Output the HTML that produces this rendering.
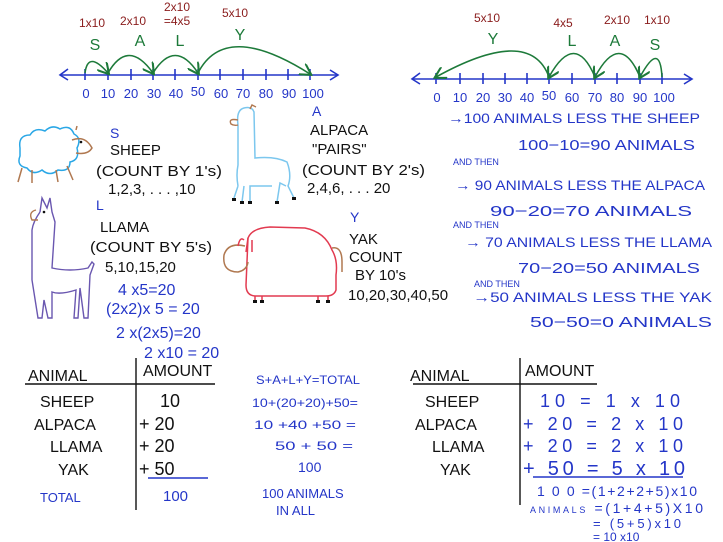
<!DOCTYPE html>
<html><head><meta charset="utf-8"><style>
html,body{margin:0;padding:0;background:#fff}
svg{display:block}
text{font-family:"Liberation Sans",sans-serif}
.b{fill:#2436c8}.k{fill:#111}.r{fill:#8a1c1c}.g{fill:#1d7a3a}
</style></head><body>
<svg width="723" height="542" viewBox="0 0 723 542" xmlns="http://www.w3.org/2000/svg">
<defs>
<marker id="ag" markerWidth="8" markerHeight="8" refX="6" refY="4" orient="auto"><path d="M0,0 L7,4 L0,8" fill="none" stroke="#1d7a3a" stroke-width="1.3"/></marker>
</defs>
<!-- LEFT NUMBER LINE -->
<g stroke="#2436c8" stroke-width="1.6" fill="none">
<line x1="60" y1="75" x2="338" y2="75"/>
<path d="M68,69 L60,75 L68,80"/><path d="M330,70 L338,75 L330,80"/>
<path d="M85,69v11M108,69v11M131,69v11M153,69v11M175,69v11M198,69v11M220,69v11M243,69v11M266,69v11M288,69v11M310,69v11"/>
</g>
<g class="b" font-size="13" text-anchor="middle">
<text x="86" y="98">0</text><text x="108" y="98">10</text><text x="131" y="98">20</text><text x="154" y="98">30</text><text x="176" y="98">40</text><text x="198" y="96">50</text><text x="221" y="98">60</text><text x="243" y="98">70</text><text x="266" y="98">80</text><text x="289" y="98">90</text><text x="313" y="98">100</text>
</g>
<g stroke="#1d7a3a" stroke-width="1.6" fill="none" marker-end="url(#ag)">
<path d="M85,73 Q88,50 108,73"/><path d="M108,73 Q128,38 153,73"/><path d="M153,73 Q175,38 198,73"/><path d="M198,73 Q225,20 310,74"/>
</g>
<g class="g" font-size="16" text-anchor="middle"><text x="95" y="50">S</text><text x="140" y="46">A</text><text x="180" y="46">L</text><text x="240" y="40">Y</text></g>
<g class="r" font-size="12" text-anchor="middle"><text x="92" y="27">1x10</text><text x="133" y="25">2x10</text><text x="177" y="11">2x10</text><text x="177" y="25">=4x5</text><text x="235" y="17">5x10</text></g>

<!-- RIGHT NUMBER LINE -->
<g stroke="#2436c8" stroke-width="1.6" fill="none">
<line x1="412" y1="79" x2="692" y2="79"/>
<path d="M420,73 L412,79 L420,84"/><path d="M684,74 L692,79 L684,84"/>
<path d="M436,73v11M460,73v11M483,73v11M505,73v11M527,73v11M549,73v11M572,73v11M595,73v11M617,73v11M640,73v11M662,73v11"/>
</g>
<g class="b" font-size="13" text-anchor="middle">
<text x="437" y="102">0</text><text x="460" y="102">10</text><text x="483" y="102">20</text><text x="505" y="102">30</text><text x="527" y="102">40</text><text x="549" y="100">50</text><text x="572" y="102">60</text><text x="595" y="102">70</text><text x="617" y="102">80</text><text x="640" y="102">90</text><text x="664" y="102">100</text>
</g>
<g stroke="#1d7a3a" stroke-width="1.6" fill="none" marker-end="url(#ag)">
<path d="M662,77 Q660,40 640,77"/><path d="M640,77 Q620,30 595,77"/><path d="M595,77 Q575,30 549,77"/><path d="M549,77 Q530,25 436,77"/>
</g>
<g class="g" font-size="16" text-anchor="middle"><text x="493" y="44">Y</text><text x="572" y="46">L</text><text x="615" y="46">A</text><text x="655" y="50">S</text></g>
<g class="r" font-size="12" text-anchor="middle"><text x="487" y="22">5x10</text><text x="563" y="27">4x5</text><text x="617" y="24">2x10</text><text x="657" y="24">1x10</text></g>

<!-- RIGHT SUBTRACTION TEXT -->
<g class="b" font-size="15">
<text x="448" y="123" font-size="14" textLength="252" lengthAdjust="spacingAndGlyphs">→100 ANIMALS LESS THE SHEEP</text>
<text x="518" y="150" textLength="177" lengthAdjust="spacingAndGlyphs">100−10=90 ANIMALS</text>
<text x="453" y="165" font-size="9">AND THEN</text>
<text x="455" y="190" font-size="14" textLength="250" lengthAdjust="spacingAndGlyphs">→ 90 ANIMALS LESS THE ALPACA</text>
<text x="490" y="216" textLength="202" lengthAdjust="spacingAndGlyphs">90−20=70 ANIMALS</text>
<text x="453" y="228" font-size="9">AND THEN</text>
<text x="465" y="247" font-size="14" textLength="247" lengthAdjust="spacingAndGlyphs">→ 70 ANIMALS LESS THE LLAMA</text>
<text x="518" y="273" textLength="182" lengthAdjust="spacingAndGlyphs">70−20=50 ANIMALS</text>
<text x="474" y="287" font-size="9">AND THEN</text>
<text x="473" y="302" font-size="14" textLength="239" lengthAdjust="spacingAndGlyphs">→50 ANIMALS LESS THE YAK</text>
<text x="530" y="327" textLength="182" lengthAdjust="spacingAndGlyphs">50−50=0 ANIMALS</text>
</g>

<!-- ANIMAL DESCRIPTIONS -->
<g class="k" font-size="15">
<text x="110" y="155">SHEEP</text>
<text x="96" y="176" textLength="126" lengthAdjust="spacingAndGlyphs">(COUNT BY 1's)</text>
<text x="108" y="194">1,2,3, . . . ,10</text>
<text x="310" y="135">ALPACA</text>
<text x="312" y="154">"PAIRS"</text>
<text x="302" y="175" textLength="123" lengthAdjust="spacingAndGlyphs">(COUNT BY 2's)</text>
<text x="307" y="193">2,4,6, . . . 20</text>
<text x="100" y="232">LLAMA</text>
<text x="90" y="252" textLength="122" lengthAdjust="spacingAndGlyphs">(COUNT BY 5's)</text>
<text x="105" y="272">5,10,15,20</text>
<text x="349" y="244">YAK</text>
<text x="349" y="262">COUNT</text>
<text x="355" y="280">BY 10's</text>
<text x="348" y="300">10,20,30,40,50</text>
</g>
<g class="b" font-size="14"><text x="110" y="138">S</text><text x="312" y="116">A</text><text x="96" y="210">L</text><text x="350" y="222">Y</text></g>
<g class="b" font-size="16">
<text x="118" y="295">4 x5=20</text>
<text x="106" y="314">(2x2)x 5 = 20</text>
<text x="116" y="338">2 x(2x5)=20</text>
<text x="144" y="358">2 x10 = 20</text>
</g>

<!-- SHEEP -->
<g fill="none" stroke-width="1.5">
<path d="M20,148 Q18,135 30,135 Q35,127 45,131 Q52,124 60,129 Q70,124 74,134 Q82,138 77,148 Q80,160 70,162 Q70,172 58,170 Q50,177 42,170 Q33,176 27,168 Q16,166 20,156 Z" stroke="#2aa7e6"/>
<path d="M72,140 Q85,135 92,148 Q88,155 76,153" stroke="#b07850"/>
<path d="M22,168 L18,182 M32,170 L32,183 M56,170 L58,182 M67,166 L73,180 M76,130 l1,-4" stroke="#b07850"/>
</g>
<circle cx="81" cy="142" r="1.3" fill="#111"/>
<!-- ALPACA -->
<g fill="none" stroke-width="1.5" stroke="#7cc7ee">
<path d="M238,125 Q236,110 244,108 Q252,106 254,112 L255,158 Q275,156 287,162 Q292,175 288,186 L294,198"/>
<path d="M286,186 L280,183 L277,202"/>
<path d="M272,186 L250,186 L250,202"/>
<path d="M244,186 L242,202"/>
<path d="M238,186 L234,198 M238,186 Q236,175 238,165 L238,125"/>
</g>
<path d="M238,120 Q228,118 231,124 Q234,126 238,125 M250,109 l2,-4 4,2" fill="none" stroke="#b07850" stroke-width="1.4"/>
<g fill="#111"><rect x="232" y="198" width="4" height="3"/><rect x="240" y="201" width="4" height="3"/><rect x="248" y="201" width="4" height="3"/><rect x="275" y="201" width="4" height="3"/><rect x="292" y="197" width="4" height="3"/></g>
<!-- LLAMA -->
<g fill="none" stroke="#6a57b0" stroke-width="1.4">
<path d="M40,212 L42,198 L47,208 L50,198 L52,212 L55,222 L52,268 Q70,272 88,268 L92,262 L94,264 L90,275 L88,318 L84,318 L80,288 L78,318 L74,318 L76,290 Q60,295 52,292 L52,318 L48,318 L44,300 L42,318 L38,318 L32,280 L32,230 Q33,222 40,212"/>
</g>
<path d="M36,210 Q28,212 32,220 L38,220" fill="none" stroke="#b07850" stroke-width="1.4"/>
<circle cx="44" cy="212" r="1.3" fill="#111"/>
<!-- YAK -->
<g fill="none" stroke-width="1.5">
<path d="M248,238 Q252,228 270,227 L305,228 Q325,232 332,250 Q338,260 336,275 L336,290 Q334,296 326,296 L256,296 Q246,296 246,285 Z" stroke="#e23a50"/>
<path d="M255,296 v6 M262,296 v6 M318,296 v6 M328,296 v6" stroke="#e23a50"/>
<path d="M245,246 Q228,242 224,255 Q222,272 238,272 Q247,270 248,262" stroke="#b07850"/>
<path d="M332,248 Q342,246 342,262 L342,272" stroke="#b07850"/>
<path d="M244,240 Q240,236 238,246 M248,238 L246,252 M252,240 L252,252" stroke="#e23a50"/>
</g>
<g fill="#111"><rect x="253" y="300" width="4" height="3"/><rect x="260" y="300" width="4" height="3"/><rect x="316" y="300" width="4" height="3"/><rect x="326" y="300" width="4" height="3"/></g>

<!-- LEFT TABLE -->
<g stroke="#111" stroke-width="1.4"><line x1="136" y1="358" x2="136" y2="510"/><line x1="25" y1="384" x2="215" y2="384"/></g>
<g class="k" font-size="16">
<text x="28" y="381">ANIMAL</text><text x="143" y="376">AMOUNT</text>
<text x="40" y="407">SHEEP</text><text x="34" y="430">ALPACA</text><text x="50" y="452">LLAMA</text><text x="58" y="475">YAK</text>
<text x="160" y="407" font-size="18">10</text><text x="139" y="430" font-size="18">+ 20</text><text x="139" y="452" font-size="18">+ 20</text><text x="139" y="475" font-size="18">+ 50</text>
</g>
<line x1="148" y1="478" x2="208" y2="478" stroke="#2436c8" stroke-width="1.4"/>
<text x="40" y="502" class="b" font-size="13">TOTAL</text><text x="163" y="501" class="b" font-size="15">100</text>

<!-- MIDDLE -->
<g class="b" font-size="12">
<text x="256" y="384" textLength="104" lengthAdjust="spacingAndGlyphs">S+A+L+Y=TOTAL</text>
<text x="252" y="407" textLength="106" lengthAdjust="spacingAndGlyphs">10+(20+20)+50=</text>
<text x="254" y="429" textLength="102" lengthAdjust="spacingAndGlyphs">10 +40 +50 =</text>
<text x="275" y="450" textLength="78" lengthAdjust="spacingAndGlyphs">50 + 50 =</text>
<text x="298" y="472" font-size="14">100</text>
<text x="262" y="498" font-size="13">100 ANIMALS</text>
<text x="276" y="515" font-size="13">IN ALL</text>
</g>

<!-- RIGHT TABLE -->
<g stroke="#111" stroke-width="1.4"><line x1="520" y1="358" x2="520" y2="505"/><line x1="413" y1="384" x2="597" y2="384"/></g>
<g class="k" font-size="16">
<text x="410" y="381">ANIMAL</text><text x="525" y="376">AMOUNT</text>
<text x="425" y="407">SHEEP</text><text x="415" y="430">ALPACA</text><text x="432" y="452">LLAMA</text><text x="440" y="475">YAK</text>
</g>
<g class="b" font-size="18">
<text x="540" y="407" textLength="140" lengthAdjust="spacing">10  =  1 x 10</text>
<text x="523" y="430" textLength="160" lengthAdjust="spacing">+ 20  =  2 x 10</text>
<text x="523" y="452" textLength="160" lengthAdjust="spacing">+ 20  =  2 x 10</text>
<text x="523" y="475" font-size="20" textLength="162" lengthAdjust="spacing">+ 50 = 5 x 10</text>
</g>
<line x1="533" y1="477" x2="683" y2="477" stroke="#2436c8" stroke-width="1.4"/>
<g class="b" font-size="14">
<text x="537" y="496" textLength="160" lengthAdjust="spacing">1 0 0   =(1+2+2+5)x10</text>
<text x="530" y="513" textLength="173" lengthAdjust="spacing"><tspan font-size="9">ANIMALS</tspan> =(1+4+5)X10</text>
<text x="593" y="528" font-size="13" textLength="88" lengthAdjust="spacing">= (5+5)x10</text>
<text x="593" y="541" font-size="12">=  10 x10</text>
</g>
</svg>
</body></html>
